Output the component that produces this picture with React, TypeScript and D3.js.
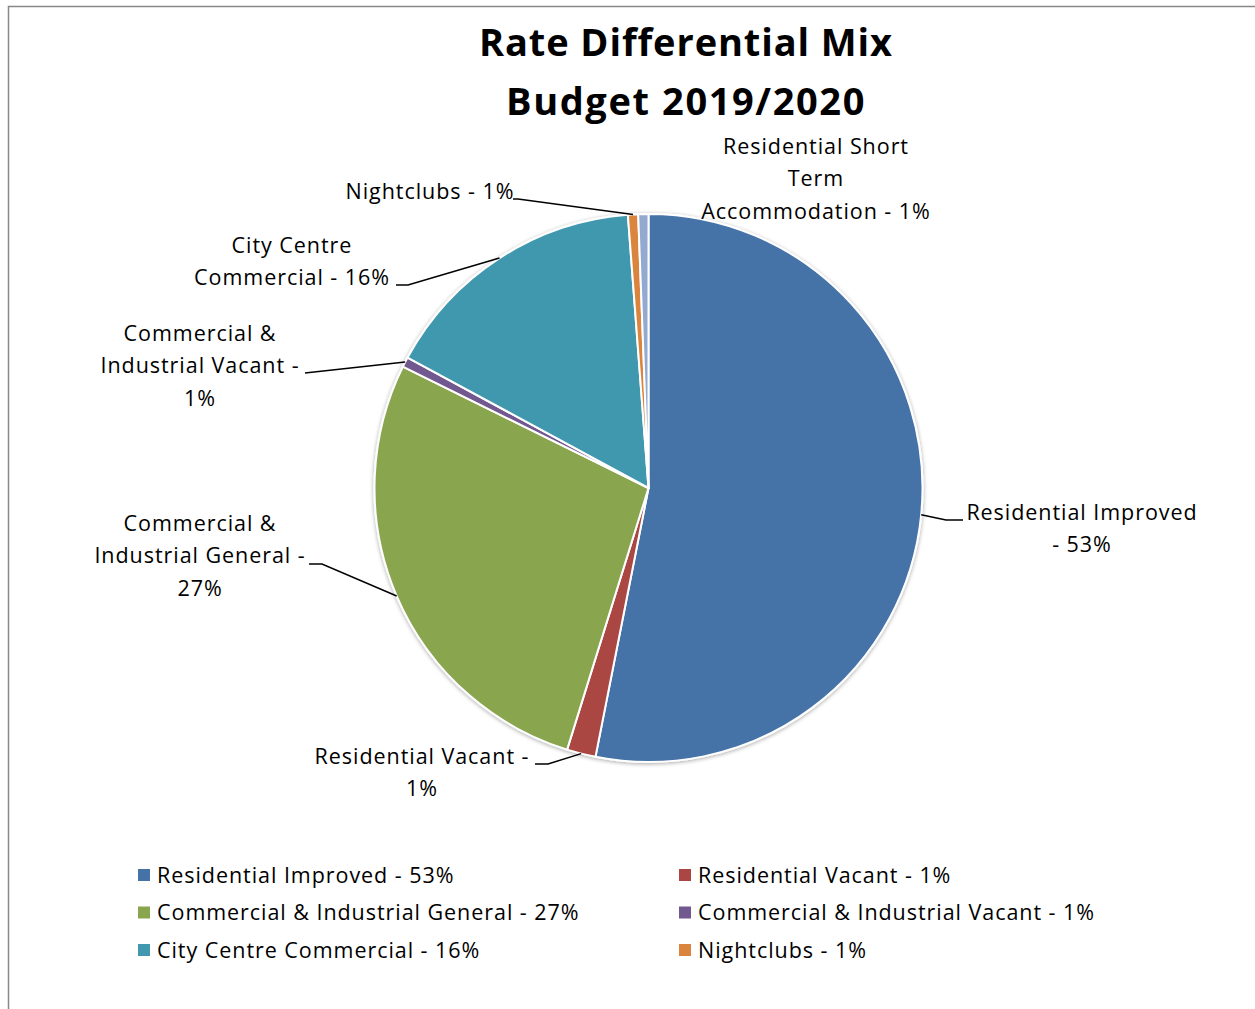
import React from "react";
import * as d3 from "d3";

const categories = [
  "Residential Improved",
  "Residential Vacant",
  "Commercial & Industrial General",
  "Commercial & Industrial Vacant",
  "City Centre Commercial",
  "Nightclubs",
  "Residential Short Term Accommodation",
];
const values = [53.1, 1.7, 27.5, 0.6, 15.9, 0.6, 0.6];
const percentLabels = ["53%", "1%", "27%", "1%", "16%", "1%", "1%"];
const colors = ["#4572A7", "#AA4643", "#89A54E", "#71588F", "#4198AF", "#DB843D", "#93A9CF"];

// label layout: lines, center x, first line y, leader points (elbow + end)
const labelLines = [
  ["Residential Improved", "- 53%"],
  ["Residential Vacant -", "1%"],
  ["Commercial &", "Industrial General -", "27%"],
  ["Commercial &", "Industrial Vacant -", "1%"],
  ["City Centre", "Commercial - 16%"],
  ["Nightclubs - 1%"],
  ["Residential Short", "Term", "Accommodation - 1%"],
];
const labelPos: [number, number][] = [
  [1082, 512],
  [422, 756],
  [200, 523],
  [200, 333],
  [292, 245],
  [430, 191],
  [816, 146],
];
const leaderPts: ([number, number][] | null)[] = [
  [[946, 520], [963, 520]],
  [[548, 764], [535, 764]],
  [[322, 564], [309, 564]],
  [[305, 373]],
  [[408, 285], [396, 285]],
  [[518, 199], [513, 199]],
  null,
];

const legendOrder = [0, 1, 2, 3, 4, 5];

const FONT = "'Open Sans', 'Noto Sans', sans-serif";
const LS = 0.95;

export default function App() {
  const W = 1255, H = 1009;
  const cx = 648.5, cy = 488, r = 274;
  const pie = d3.pie<number>().sort(null).value((d) => d).startAngle(0).endAngle(2 * Math.PI);
  const arcs = pie(values);
  const arcGen = d3.arc<d3.PieArcDatum<number>>().innerRadius(0).outerRadius(r);
  const lineGen = d3.line();

  return (
    <svg width={W} height={H} style={{ position: "absolute", left: 0, top: 0, fontFamily: FONT }}>
      <defs>
        <filter id="sh" x="-10%" y="-10%" width="120%" height="120%">
          <feGaussianBlur in="SourceAlpha" stdDeviation="2" />
          <feOffset dx="0" dy="1" result="b" />
          <feComponentTransfer><feFuncA type="linear" slope="0.35" /></feComponentTransfer>
          <feMerge><feMergeNode /><feMergeNode in="SourceGraphic" /></feMerge>
        </filter>
      </defs>
      <rect x={0} y={0} width={W} height={H} fill="#fff" />
      <rect x={8.5} y={6.5} width={W + 20} height={H + 20} fill="none" stroke="#888" strokeWidth={1.5} />
      <text x={686} y={56} textAnchor="middle" fontSize={38} fontWeight="bold" letterSpacing={0.9} fill="#000">Rate Differential Mix</text>
      <text x={686} y={115} textAnchor="middle" fontSize={38} fontWeight="bold" letterSpacing={1.6} fill="#000">Budget 2019/2020</text>
      <g transform={`translate(${cx},${cy})`} filter="url(#sh)">
        {arcs.map((a, i) => (
          <path key={i} d={arcGen(a) || ""} fill={colors[i]} stroke="#fff" strokeWidth={2} strokeLinejoin="round" />
        ))}
      </g>
      {arcs.map((a, i) => {
        const pts = leaderPts[i];
        if (!pts) return null;
        const m = (a.startAngle + a.endAngle) / 2;
        const start: [number, number] = [cx + r * Math.sin(m), cy - r * Math.cos(m)];
        return <path key={i} d={lineGen([start, ...pts]) || ""} fill="none" stroke="#000" strokeWidth={1.5} />;
      })}
      {labelLines.map((lines, i) => (
        <text key={i} textAnchor="middle" fontSize={21.5} letterSpacing={LS} fill="#000">
          {lines.map((l, j) => (
            <tspan key={j} x={labelPos[i][0]} y={labelPos[i][1] + j * 32.5} dy="0.35em">{l}</tspan>
          ))}
        </text>
      ))}
      {legendOrder.map((idx, k) => {
        const col = k % 2, row = Math.floor(k / 2);
        const x = col === 0 ? 138 : 679;
        const y = 875 + row * 37.5;
        return (
          <g key={idx}>
            <rect x={x} y={y - 6} width={12} height={12} fill={colors[idx]} />
            <text x={x + 19} y={y} dy="0.35em" fontSize={21.5} letterSpacing={LS} fill="#000">{`${categories[idx]} - ${percentLabels[idx]}`}</text>
          </g>
        );
      })}
    </svg>
  );
}
